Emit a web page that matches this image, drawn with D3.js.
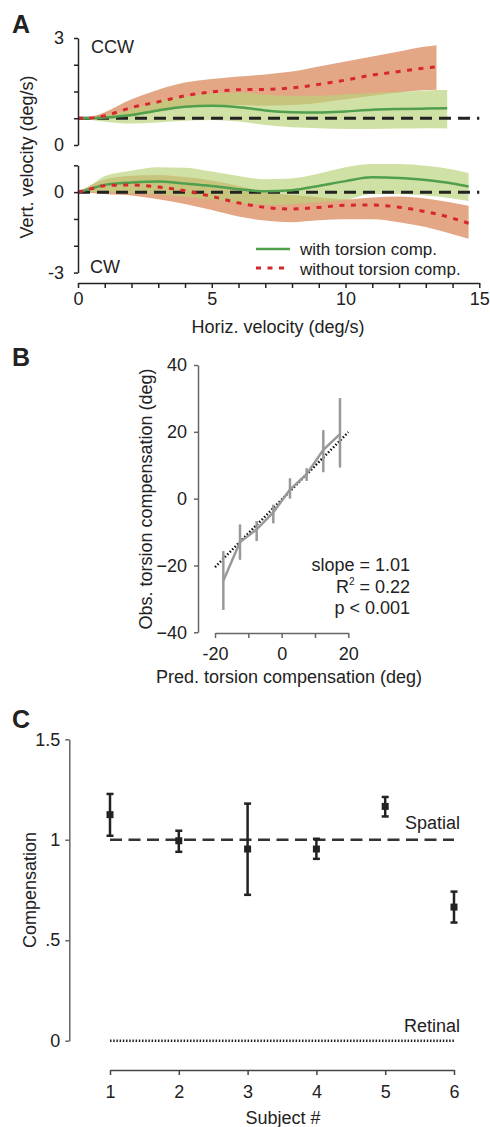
<!DOCTYPE html>
<html>
<head>
<meta charset="utf-8">
<script src="https://d3js.org/d3.v7.min.js"></script>
<style>
  body { margin: 0; background: #fff; }
  text { font-family: "Liberation Sans", Arial, sans-serif; fill: #222; }
</style>
</head>
<body>
<script>
// ---- Panel A data (top = CCW, bottom = CW) ----
var ccwRedX   = [0, 0.5, 1, 2, 3, 4, 5, 6, 7, 8, 9, 10, 11, 12, 13, 13.4];
var ccwRedMid = [0.75, 0.76, 0.82, 1.05, 1.21, 1.38, 1.49, 1.55, 1.56, 1.6, 1.7, 1.82, 1.96, 2.06, 2.16, 2.19];
var ccwRedHi  = [0.75, 0.8, 0.92, 1.28, 1.55, 1.75, 1.85, 1.92, 1.98, 2.06, 2.2, 2.34, 2.48, 2.62, 2.76, 2.8];
var ccwRedLo  = [0.75, 0.73, 0.72, 0.8, 0.93, 1.06, 1.12, 1.12, 1.1, 1.12, 1.18, 1.28, 1.38, 1.47, 1.54, 1.55];
var ccwGrnX   = [0, 0.5, 1, 2, 3, 4, 5, 6, 7, 8, 9, 10, 11, 12, 13, 13.8];
var ccwGrnMid = [0.75, 0.75, 0.77, 0.84, 0.97, 1.07, 1.1, 1.06, 0.97, 0.92, 0.91, 0.94, 0.99, 1.01, 1.02, 1.03];
var ccwGrnHi  = [0.75, 0.78, 0.83, 1.0, 1.22, 1.36, 1.45, 1.47, 1.41, 1.38, 1.38, 1.42, 1.46, 1.49, 1.53, 1.54];
var ccwGrnLo  = [0.75, 0.7, 0.65, 0.6, 0.63, 0.68, 0.7, 0.66, 0.56, 0.5, 0.47, 0.45, 0.45, 0.46, 0.47, 0.46];

var cwX      = [0, 0.5, 1, 2, 3, 4, 5, 6, 7, 8, 9, 10, 11, 12, 13, 14, 14.6];
var cwGrnMid = [0, 0.13, 0.27, 0.36, 0.40, 0.32, 0.23, 0.11, 0.03, 0.07, 0.23, 0.41, 0.55, 0.53, 0.45, 0.32, 0.21];
var cwGrnHi  = [0, 0.27, 0.6, 0.8, 0.93, 0.91, 0.77, 0.6, 0.48, 0.51, 0.69, 0.93, 1.05, 1.05, 0.98, 0.84, 0.71];
var cwGrnLo  = [0, 0, 0, -0.04, -0.09, -0.17, -0.27, -0.4, -0.47, -0.45, -0.37, -0.29, -0.07, -0.07, -0.13, -0.24, -0.33];
var cwRedMid = [0, 0.13, 0.24, 0.27, 0.19, 0.05, -0.16, -0.4, -0.57, -0.63, -0.57, -0.49, -0.48, -0.56, -0.73, -0.97, -1.16];
var cwRedHi  = [0, 0.27, 0.47, 0.61, 0.64, 0.56, 0.43, 0.23, 0, -0.11, -0.19, -0.27, -0.2, -0.16, -0.24, -0.4, -0.51];
var cwRedLo  = [0, -0.03, -0.07, -0.13, -0.27, -0.44, -0.67, -0.91, -1.06, -1.12, -1.05, -1.01, -1.01, -1.12, -1.3, -1.57, -1.74];

// ---- Panel B data ----
var predB  = [-17.5, -12.5, -7.5, -2.5, 2.5, 7.5, 12.5, 17.5];
var obsB   = [-24.6, -13, -9.2, -4.1, 2.7, 7.3, 14.6, 19.3];
var obsLoB = [-33.3, -18.3, -12.7, -7.4, 0, 5.3, 7.9, 9.3];
var obsHiB = [-15.7, -7.7, -6.7, -1.8, 6.1, 9.1, 20.5, 30.1];
var fitX = [-20, 20], fitSlope = 1.01, fitIcpt = -0.3;

// ---- Panel C data ----
var subjects = [1, 2, 3, 4, 5, 6];
var comp   = [1.125, 0.995, 0.954, 0.954, 1.166, 0.665];
var compLo = [1.02, 0.94, 0.726, 0.905, 1.116, 0.588];
var compHi = [1.228, 1.045, 1.18, 1.005, 1.213, 0.742];

var RED_BAND = "#e3a786", GRN_BAND = "rgb(185,210,121)", GRN_LINE = "#4f9f4c", RED_LINE = "#d8262c";

var svg = d3.select("body").append("svg").attr("width", 490).attr("height", 1127);

function zipXY(xs, ys) { return xs.map(function(x, i) { return [x, ys[i]]; }); }
function styleAxis(g, col) {
  g.selectAll("path.domain").attr("stroke", col).attr("stroke-width", 1.5);
  g.selectAll(".tick line").attr("stroke", col).attr("stroke-width", 1.5);
  g.selectAll(".tick text").attr("font-size", 18).attr("fill", "#222")
    .style("font-family", '"Liberation Sans", Arial, sans-serif');
}

// ================= Panel A =================
var xA = d3.scaleLinear().domain([0, 15]).range([78, 479.3]);
var yTop = d3.scaleLinear().domain([0, 3]).range([145, 38]);
var yBot = d3.scaleLinear().domain([-3, 1]).range([272.6, 165.3]);

function drawSub(y, rX, rMid, rHi, rLo, gX, gMid, gHi, gLo, base) {
  var area = d3.area().curve(d3.curveMonotoneX)
    .x(function(d) { return xA(d[0]); }).y0(function(d) { return y(d[1]); }).y1(function(d) { return y(d[2]); });
  var line = d3.line().curve(d3.curveMonotoneX)
    .x(function(d) { return xA(d[0]); }).y(function(d) { return y(d[1]); });
  svg.append("path").attr("d", area(rX.map(function(x, i) { return [x, rLo[i], rHi[i]]; })))
    .attr("fill", RED_BAND);
  svg.append("path").attr("d", area(gX.map(function(x, i) { return [x, gLo[i], gHi[i]]; })))
    .attr("fill", GRN_BAND).attr("fill-opacity", 0.67);
  svg.append("line").attr("x1", xA(0)).attr("x2", xA(15)).attr("y1", y(base)).attr("y2", y(base))
    .attr("stroke", "#222").attr("stroke-width", 3).attr("stroke-dasharray", "12,7");
  svg.append("path").attr("d", line(zipXY(gX, gMid))).attr("fill", "none")
    .attr("stroke", GRN_LINE).attr("stroke-width", 2.5);
  svg.append("path").attr("d", line(zipXY(rX, rMid))).attr("fill", "none")
    .attr("stroke", RED_LINE).attr("stroke-width", 3).attr("stroke-dasharray", "5,6.5");
}
drawSub(yTop, ccwRedX, ccwRedMid, ccwRedHi, ccwRedLo, ccwGrnX, ccwGrnMid, ccwGrnHi, ccwGrnLo, 0.75);
drawSub(yBot, cwX, cwRedMid, cwRedHi, cwRedLo, cwX, cwGrnMid, cwGrnHi, cwGrnLo, 0);

var gyT = svg.append("g").attr("transform", "translate(78,0)")
  .call(d3.axisLeft(yTop).tickValues([0, 0.75, 1.5, 2.25, 3]).tickSize(4).tickSizeOuter(0).tickPadding(10)
    .tickFormat(function(d) { return (d === 0 || d === 3) ? d : ""; }));
styleAxis(gyT, "#222");
var gyB = svg.append("g").attr("transform", "translate(78,0)")
  .call(d3.axisLeft(yBot).tickValues([-3, -2, -1, 0, 1]).tickSize(4).tickSizeOuter(0).tickPadding(10)
    .tickFormat(function(d) { return (d === 0 || d === -3) ? d : ""; }));
styleAxis(gyB, "#222");
var gxA = svg.append("g").attr("transform", "translate(0,283)")
  .call(d3.axisBottom(xA).tickValues(d3.range(0, 16)).tickSize(5).tickSizeOuter(0).tickPadding(4)
    .tickFormat(function(d) { return d % 5 === 0 ? d : ""; }));
styleAxis(gxA, "#222");

svg.append("text").attr("x", 12).attr("y", 33).attr("font-size", 25).attr("font-weight", "bold").text("A");
svg.append("text").attr("x", 91).attr("y", 53).attr("font-size", 18).text("CCW");
svg.append("text").attr("x", 90).attr("y", 273).attr("font-size", 18).text("CW");
svg.append("text").attr("x", 278).attr("y", 333).attr("font-size", 18).attr("text-anchor", "middle")
  .text("Horiz. velocity (deg/s)");
svg.append("text").attr("transform", "translate(33,157) rotate(-90)").attr("font-size", 18)
  .attr("text-anchor", "middle").text("Vert. velocity (deg/s)");

// legend
svg.append("line").attr("x1", 256).attr("x2", 290).attr("y1", 249).attr("y2", 249)
  .attr("stroke", GRN_LINE).attr("stroke-width", 2.5);
svg.append("line").attr("x1", 256).attr("x2", 288).attr("y1", 268).attr("y2", 268)
  .attr("stroke", RED_LINE).attr("stroke-width", 3).attr("stroke-dasharray", "5,6.5");
svg.append("text").attr("x", 300).attr("y", 255).attr("font-size", 17).text("with torsion comp.");
svg.append("text").attr("x", 300).attr("y", 274.5).attr("font-size", 17).text("without torsion comp.");

// ================= Panel B =================
var xB = d3.scaleLinear().domain([-20, 20]).range([215, 348.3]);
var yB = d3.scaleLinear().domain([-40, 40]).range([632.3, 365]);

svg.append("path").attr("d", d3.line().x(function(d) { return xB(d); }).y(function(d) { return yB(fitSlope * d + fitIcpt); })(fitX))
  .attr("fill", "none").attr("stroke", "#111").attr("stroke-width", 2.5).attr("stroke-dasharray", "1.5,2");
svg.selectAll(".ebB").data(predB).enter().append("line")
  .attr("x1", function(d) { return xB(d); }).attr("x2", function(d) { return xB(d); })
  .attr("y1", function(d, i) { return yB(obsLoB[i]); }).attr("y2", function(d, i) { return yB(obsHiB[i]); })
  .attr("stroke", "#999").attr("stroke-width", 2.5);
svg.append("path").attr("d", d3.line().x(function(d) { return xB(d[0]); }).y(function(d) { return yB(d[1]); })(zipXY(predB, obsB)))
  .attr("fill", "none").attr("stroke", "#999").attr("stroke-width", 2.5);

var gyBB = svg.append("g").attr("transform", "translate(198,0)")
  .call(d3.axisLeft(yB).tickValues([-40, -20, 0, 20, 40]).tickSize(4).tickSizeOuter(0).tickPadding(7));
styleAxis(gyBB, "#666");
var gxBB = svg.append("g").attr("transform", "translate(0,633)")
  .call(d3.axisBottom(xB).tickValues([-20, -10, 0, 10, 20]).tickSize(5).tickSizeOuter(0).tickPadding(9)
    .tickFormat(function(d) { return d % 20 === 0 ? d : ""; }));
styleAxis(gxBB, "#666");

svg.append("text").attr("x", 12).attr("y", 366).attr("font-size", 25).attr("font-weight", "bold").text("B");
svg.append("text").attr("x", 289).attr("y", 683).attr("font-size", 18).attr("text-anchor", "middle")
  .text("Pred. torsion compensation (deg)");
svg.append("text").attr("transform", "translate(152,499) rotate(-90)").attr("font-size", 18)
  .attr("text-anchor", "middle").text("Obs. torsion compensation (deg)");
svg.append("text").attr("x", 410).attr("y", 571).attr("font-size", 18).attr("text-anchor", "end").text("slope = 1.01");
var r2 = svg.append("text").attr("x", 410).attr("y", 593).attr("font-size", 18).attr("text-anchor", "end");
r2.append("tspan").text("R");
r2.append("tspan").attr("font-size", 10).attr("dy", -8).text("2");
r2.append("tspan").attr("dy", 8).text(" = 0.22");
svg.append("text").attr("x", 410).attr("y", 614).attr("font-size", 18).attr("text-anchor", "end").text("p < 0.001");

// ================= Panel C =================
var xC = d3.scaleLinear().domain([1, 6]).range([110, 454]);
var yC = d3.scaleLinear().domain([0, 1.5]).range([1040.7, 739.3]);

svg.append("line").attr("x1", xC(1)).attr("x2", xC(6)).attr("y1", yC(1)).attr("y2", yC(1))
  .attr("stroke", "#333").attr("stroke-width", 2.5).attr("stroke-dasharray", "12,6.5");
svg.append("line").attr("x1", xC(1)).attr("x2", xC(6)).attr("y1", yC(0)).attr("y2", yC(0))
  .attr("stroke", "#222").attr("stroke-width", 2.5).attr("stroke-dasharray", "1.5,1.7");

var pts = svg.selectAll(".ptC").data(subjects).enter().append("g");
pts.append("line").attr("x1", function(d) { return xC(d); }).attr("x2", function(d) { return xC(d); })
  .attr("y1", function(d, i) { return yC(compLo[i]); }).attr("y2", function(d, i) { return yC(compHi[i]); })
  .attr("stroke", "#222").attr("stroke-width", 2.5);
[compLo, compHi].forEach(function(arr) {
  pts.append("line").attr("x1", function(d) { return xC(d) - 3.5; }).attr("x2", function(d) { return xC(d) + 3.5; })
    .attr("y1", function(d, i) { return yC(arr[i]); }).attr("y2", function(d, i) { return yC(arr[i]); })
    .attr("stroke", "#222").attr("stroke-width", 2.5);
});
pts.append("rect").attr("x", function(d) { return xC(d) - 3.5; }).attr("y", function(d, i) { return yC(comp[i]) - 3.5; })
  .attr("width", 7).attr("height", 7).attr("fill", "#222");

var gyC = svg.append("g").attr("transform", "translate(69.3,0)")
  .call(d3.axisLeft(yC).tickValues([0, 0.5, 1, 1.5]).tickSize(4).tickSizeOuter(0).tickPadding(5)
    .tickFormat(function(d) { return d === 0.5 ? ".5" : String(d); }));
styleAxis(gyC, "#666");
var gxC = svg.append("g").attr("transform", "translate(0,1070)")
  .call(d3.axisBottom(xC).tickValues(subjects).tickSize(5).tickSizeOuter(0).tickPadding(10)
    .tickFormat(d3.format("d")));
styleAxis(gxC, "#444");

svg.append("text").attr("x", 12).attr("y", 728).attr("font-size", 25).attr("font-weight", "bold").text("C");
svg.append("text").attr("x", 460).attr("y", 829).attr("font-size", 18).attr("text-anchor", "end").text("Spatial");
svg.append("text").attr("x", 460).attr("y", 1032).attr("font-size", 18).attr("text-anchor", "end").text("Retinal");
svg.append("text").attr("x", 283).attr("y", 1124).attr("font-size", 18).attr("text-anchor", "middle").text("Subject #");
svg.append("text").attr("transform", "translate(36,890) rotate(-90)").attr("font-size", 18)
  .attr("text-anchor", "middle").text("Compensation");
</script>
</body>
</html>
